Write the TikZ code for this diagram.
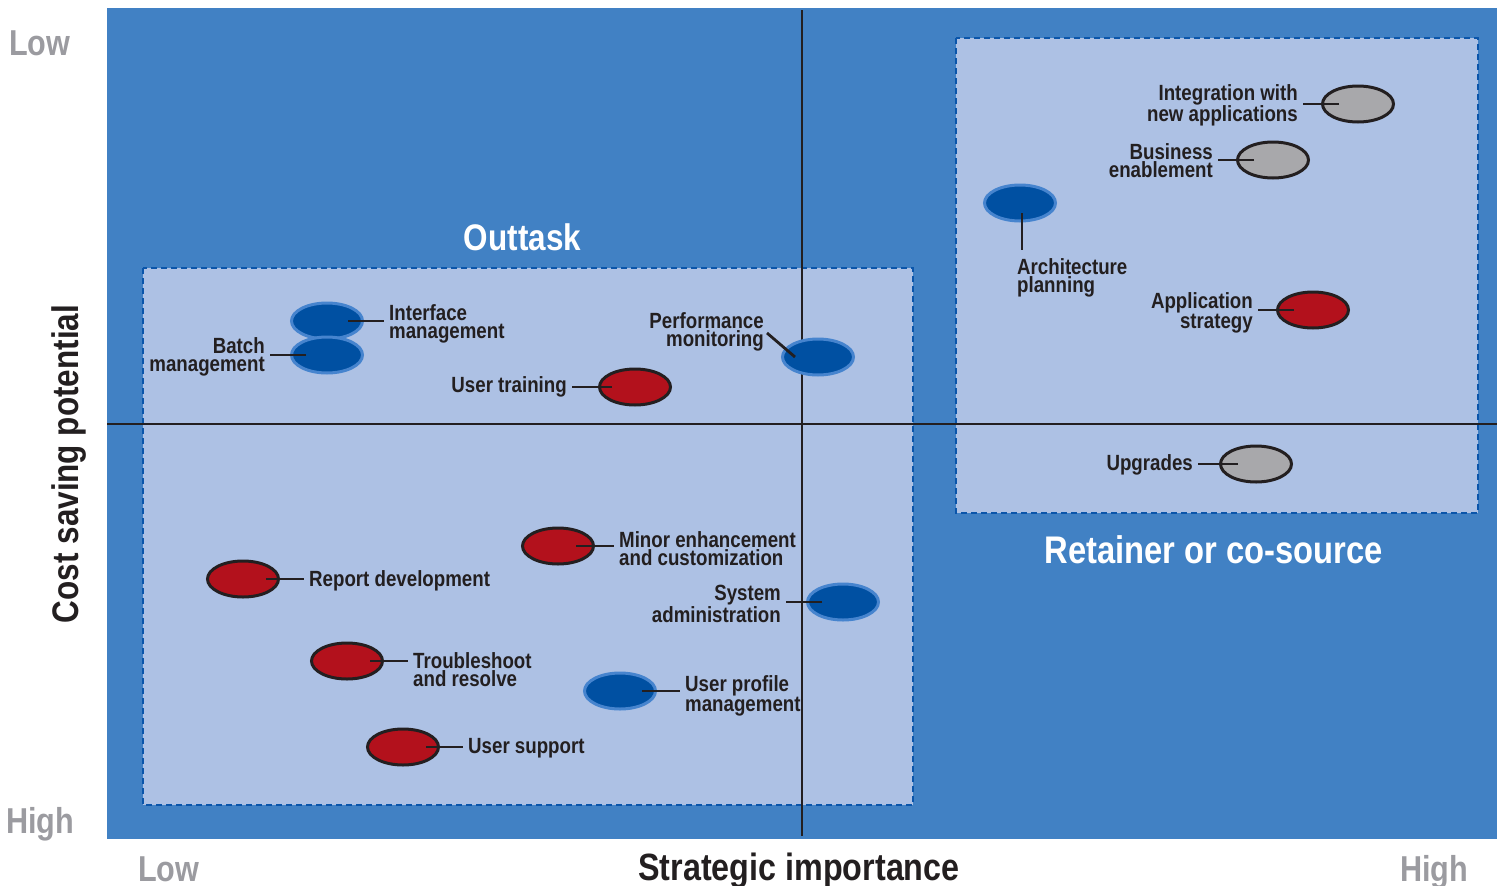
\documentclass[tikz,border=0pt]{standalone}
\usepackage{fontspec}
\newfontfamily\condfont{Liberation Sans}[FakeStretch=0.85]
\usetikzlibrary{shapes.geometric,calc}

\definecolor{bgblue}{RGB}{65,129,196}
\definecolor{paneblue}{RGB}{173,193,228}
\definecolor{dashblue}{RGB}{10,85,170}
\definecolor{dotblue}{RGB}{0,80,162}
\definecolor{dotrim}{RGB}{70,132,206}
\definecolor{dotred}{RGB}{179,17,28}
\definecolor{dotgrey}{RGB}{168,168,171}
\definecolor{ink}{RGB}{35,31,32}
\definecolor{scalegrey}{RGB}{155,155,160}

\tikzset{
  dot/.style={ellipse, minimum width=71, minimum height=36, inner sep=0, line width=3},
  bluedot/.style={dot, fill=dotblue, draw=dotrim},
  reddot/.style={dot, fill=dotred, draw=ink},
  greydot/.style={dot, fill=dotgrey, draw=ink},
  lbl/.style={font=\condfont\bfseries\fontsize{22}{18.5}\selectfont, text=ink, inner xsep=5, inner ysep=0},
  lead/.style={draw=ink, line width=2.8},
  pane/.style={fill=paneblue, draw=dashblue, line width=2.5, dash pattern=on 6 off 4},
  axis/.style={draw=ink, line width=2},
  heading/.style={font=\condfont\bfseries\fontsize{37}{40}\selectfont, inner sep=0},
  scalemark/.style={font=\condfont\bfseries\fontsize{36}{40}\selectfont, text=scalegrey, inner sep=0, anchor=base west},
}

\begin{document}
\begin{tikzpicture}[x=1pt, y=-1pt]
\useasboundingbox (0,0) rectangle (1502,886);

% plotting field and the two zones
\fill[bgblue] (107,8) rectangle (1497,839);
\path[pane] (143,268) rectangle (913,805);
\path[pane] (956,38) rectangle (1478,513);

% quadrant axes
\draw[axis] (107,423.5) -- (1497,423.5);
\draw[axis] (801.5,10) -- (801.5,836);

% zone titles
\node[heading, text=white, anchor=base] (outtask) at (522.5,250) {Outtask};
\node[heading, text=white, anchor=base, font=\condfont\bfseries\fontsize{38.5}{42}\selectfont] (retainer) at (1213.5,563) {Retainer or co-source};

% axis titles and scale ends
\node[heading, text=ink, anchor=base, font=\condfont\bfseries\fontsize{38}{40}\selectfont] (xtitle) at (799,880) {Strategic importance};
\node[heading, text=ink, anchor=base, rotate=90] (ytitle) at (78,464) {Cost saving potential};
\node[scalemark] (ylow) at (9,55) {Low};
\node[scalemark] (yhigh) at (6,833) {High};
\node[scalemark] (xlow) at (138,881) {Low};
\node[scalemark] (xhigh) at (1400,881) {High};

% activities
\node[bluedot] (iface) at (327,321) {};
\node[bluedot] (batch) at (327,355) {};
\node[reddot]  (train) at (635,387) {};
\node[bluedot] (perf)  at (818,357) {};
\node[reddot]  (minor) at (558,546) {};
\node[reddot]  (report) at (243,579) {};
\node[bluedot] (sysadm) at (843,602) {};
\node[reddot]  (trouble) at (347,661) {};
\node[bluedot] (uprof) at (620,691) {};
\node[reddot]  (usup)  at (403,747) {};
\node[greydot] (integ) at (1358,104) {};
\node[greydot] (busen) at (1273,160) {};
\node[bluedot] (arch)  at (1020,203) {};
\node[reddot]  (appstr) at (1313,310) {};
\node[greydot] (upgr)  at (1256,464) {};

% labels
\node[lbl, anchor=north west, align=left]  (iface-l) at (384,304) {Interface\\management};
\node[lbl, anchor=north east, align=right] (batch-l) at (270,337) {Batch\\management};
\node[lbl, anchor=base east]               (train-l) at (572,392) {User training};
\node[lbl, anchor=north east, align=right] (perf-l)  at (769,312) {Performance\\monitoring};
\node[lbl, anchor=north west, align=left]  (minor-l) at (614,531) {Minor enhancement\\and customization};
\node[lbl, anchor=base west]               (report-l) at (304,586) {Report development};
\node[lbl, anchor=north east, align=right] (sysadm-l) at (786,585) {System\\administration};
\node[lbl, anchor=north west, align=left]  (trouble-l) at (408,652) {Troubleshoot\\and resolve};
\node[lbl, anchor=north west, align=left]  (uprof-l) at (680,675) {User profile\\management};
\node[lbl, anchor=base west]               (usup-l) at (463,753) {User support};
\node[lbl, anchor=north east, align=right] (integ-l) at (1303,84) {Integration with\\new applications};
\node[lbl, anchor=north east, align=right] (busen-l) at (1218,143) {Business\\enablement};
\node[lbl, anchor=north west, align=left]  (arch-l) at (1012,258) {Architecture\\planning};
\node[lbl, anchor=north east, align=right] (appstr-l) at (1258,292) {Application\\strategy};
\node[lbl, anchor=base east]               (upgr-l) at (1198,470) {Upgrades};

% leader lines
\draw[lead] ([xshift=21]iface.center) -- (iface-l.west |- iface.center);
\draw[lead] ([xshift=-21]batch.center) -- (batch-l.east |- batch.center);
\draw[lead] ([xshift=-23]train.center) -- (train-l.east |- train.center);
\draw[lead] ($(perf-l.north east)+(-2,21)$) -- ([xshift=-23]perf.center);
\draw[lead] ([xshift=18]minor.center) -- (minor-l.west |- minor.center);
\draw[lead] ([xshift=23]report.center) -- (report-l.west |- report.center);
\draw[lead] ([xshift=-21]sysadm.center) -- (sysadm-l.east |- sysadm.center);
\draw[lead] ([xshift=23]trouble.center) -- (trouble-l.west |- trouble.center);
\draw[lead] ([xshift=22]uprof.center) -- (uprof-l.west |- uprof.center);
\draw[lead] ([xshift=23]usup.center) -- (usup-l.west |- usup.center);
\draw[lead] ([xshift=-19]integ.center) -- (integ-l.east |- integ.center);
\draw[lead] ([xshift=-19]busen.center) -- (busen-l.east |- busen.center);
\draw[lead] ($(arch.center)+(2,10)$) -- ($(arch-l.north west)+(10,-8)$);
\draw[lead] ([xshift=-19]appstr.center) -- (appstr-l.east |- appstr.center);
\draw[lead] ([xshift=-18]upgr.center) -- (upgr-l.east |- upgr.center);
\end{tikzpicture}
\end{document}
